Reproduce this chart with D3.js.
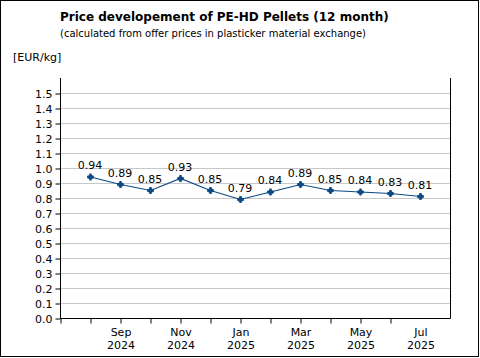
<!DOCTYPE html>
<html>
<head>
<meta charset="utf-8">
<script src="https://cdn.jsdelivr.net/npm/d3@7"></script>
<style>
body{margin:0;background:#fff}
text{font-family:"DejaVu Sans",Verdana,sans-serif;fill:#000}
</style>
</head>
<body>
<svg id="chart"></svg>
<script>
// monthly prices, Aug 2024 .. Jul 2025
var months=["Aug 2024","Sep 2024","Oct 2024","Nov 2024","Dec 2024","Jan 2025","Feb 2025","Mar 2025","Apr 2025","May 2025","Jun 2025","Jul 2025"]
var prices=[0.94,0.89,0.85,0.93,0.85,0.79,0.84,0.89,0.85,0.84,0.83,0.81]
var xLabels=[["Sep","2024"],["Nov","2024"],["Jan","2025"],["Mar","2025"],["May","2025"],["Jul","2025"]]
var yTicks=[0,0.1,0.2,0.3,0.4,0.5,0.6,0.7,0.8,0.9,1.0,1.1,1.2,1.3,1.4,1.5]

var screen={width:480,height:358}
var plot={left:60,right:450,top:78,bottom:318}
var lineColor="#0b4a84"

var svg=d3.select("#chart")
  .attr("width",screen.width)
  .attr("height",screen.height)

// outer frame
svg.append("rect").attr("x",0.5).attr("y",0.5)
  .attr("width",screen.width-2).attr("height",screen.height-2)
  .style("fill","#fff").style("stroke","#000")

var y=d3.scaleLinear().domain([0,1.6]).range([plot.bottom,plot.top])
// index -1 sits on the left axis, points start one step in
var x=d3.scaleLinear().domain([-1,12]).range([plot.left,plot.left+30*13])

// gridlines
svg.append("g").selectAll("line").data(yTicks.slice(1)).enter()
  .append("line")
  .attr("x1",plot.left).attr("x2",plot.right)
  .attr("y1",function(d){return Math.round(y(d))+0.5})
  .attr("y2",function(d){return Math.round(y(d))+0.5})
  .style("stroke","#c8c8c8")

// y axis
var yAxis=svg.append("g")
  .attr("transform","translate("+(plot.left+0.5)+",0.5)")
  .call(d3.axisLeft(y).tickValues(yTicks).tickSize(5).tickSizeOuter(0)
    .tickFormat(d3.format(".1f")))
yAxis.select(".domain").remove()
yAxis.selectAll("text").style("font-size","11px").attr("x",-8).attr("dy","0.36em")
yAxis.selectAll("line").style("stroke","#000")

// x axis ticks
var xAxis=svg.append("g")
  .attr("transform","translate(0.5,"+(plot.bottom+0.5)+")")
  .call(d3.axisBottom(x).tickValues(d3.range(-1,11)).tickSize(5).tickSizeOuter(0).tickFormat(""))
xAxis.select(".domain").remove()
xAxis.selectAll("line").style("stroke","#000")

// x labels (two lines)
var lab=svg.append("g").selectAll("text").data(xLabels).enter()
  .append("text")
  .attr("text-anchor","middle")
  .style("font-size","11px")
  .attr("transform",function(d,i){return "translate("+(x(1+2*i)+1)+",0)"})
lab.append("tspan").attr("x",0).attr("y",336).text(function(d){return d[0]})
lab.append("tspan").attr("x",0).attr("y",349).text(function(d){return d[1]})

// plot frame: left, bottom, right
svg.append("path")
  .attr("d","M"+(plot.left+0.5)+","+plot.top+"V"+(plot.bottom+0.5)+"H"+(plot.right+0.5)+"V"+plot.top)
  .style("fill","none").style("stroke","#000")

// price line
var line=d3.line()
  .x(function(d,i){return x(i)+0.5})
  .y(function(d){return y(d)})
svg.append("path").datum(prices)
  .attr("d",line)
  .style("fill","none").style("stroke",lineColor).style("stroke-width",1.2)

svg.append("g").selectAll("path").data(prices).enter()
  .append("path")
  .attr("d",d3.symbol().type(d3.symbolCross).size(26))
  .attr("transform",function(d,i){return "translate("+(x(i)+0.5)+","+y(d)+")"})
  .style("fill",lineColor)
svg.append("g").selectAll("circle").data(prices).enter()
  .append("circle")
  .attr("cx",function(d,i){return x(i)+0.5})
  .attr("cy",function(d){return y(d)})
  .attr("r",2.5)
  .style("fill",lineColor)

// value labels
svg.append("g").selectAll("text").data(prices).enter()
  .append("text")
  .attr("x",function(d,i){return x(i)})
  .attr("y",function(d){return y(d)-8})
  .attr("text-anchor","middle")
  .style("font-size","11px")
  .text(function(d){return d.toFixed(2)})

// titles
svg.append("text").attr("x",60).attr("y",21)
  .style("font-size","12px").style("font-weight","bold")
  .text("Price developement of PE-HD Pellets (12 month)")
svg.append("text").attr("x",60).attr("y",37)
  .style("font-size","10px")
  .text("(calculated from offer prices in plasticker material exchange)")
svg.append("text").attr("x",13).attr("y",61)
  .style("font-size","11px")
  .text("[EUR/kg]")
</script>
</body>
</html>
